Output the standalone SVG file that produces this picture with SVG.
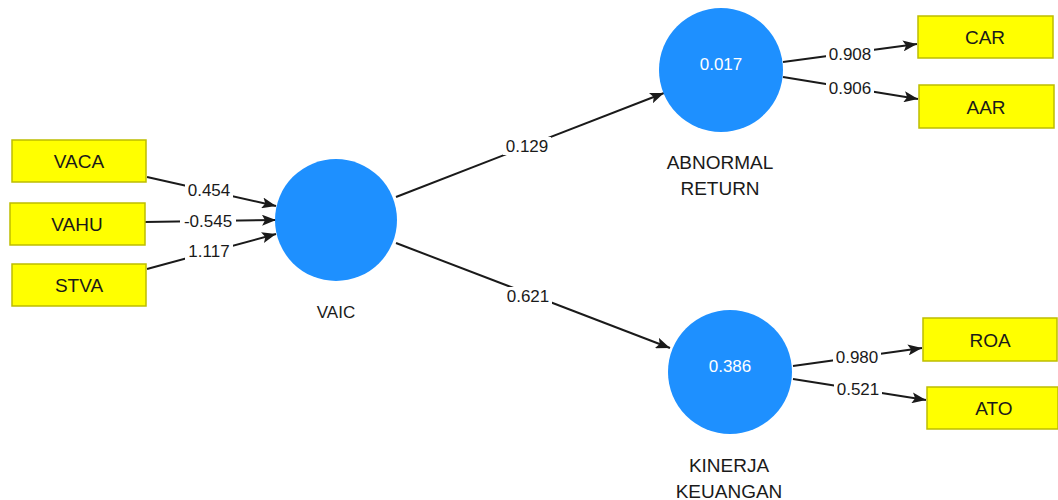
<svg xmlns="http://www.w3.org/2000/svg" width="1058" height="500" viewBox="0 0 1058 500">
<style>
.box{fill:#FFFF00;stroke:#BDBD00;stroke-width:1.5}
.lv{fill:#1E90FF}
.t{font-family:"Liberation Sans",Arial,sans-serif;font-size:17px;fill:#1a1a1a;text-anchor:middle;dominant-baseline:central}
.n{font-size:19px}
.w{fill:#ffffff}
.e{stroke:#1a1a1a;stroke-width:2;fill:none;marker-end:url(#ah)}
.lb{fill:#ffffff}
</style>
<defs>
<marker id="ah" viewBox="0 0 14 11" refX="14" refY="5.5" markerWidth="14" markerHeight="11" markerUnits="userSpaceOnUse" orient="auto">
<path d="M0,0 L14,5.5 L0,11 L3,5.5 Z" fill="#1a1a1a"/>
</marker>
</defs>
<rect width="1058" height="500" fill="#ffffff"/>
<g id="connectors">
<line class="e" x1="147" y1="177" x2="276" y2="206"/>
<line class="e" x1="145" y1="222" x2="276" y2="220"/>
<line class="e" x1="147" y1="269" x2="276" y2="234"/>
<line class="e" x1="396" y1="197" x2="664" y2="93"/>
<line class="e" x1="396" y1="243" x2="670" y2="348"/>
<line class="e" x1="783" y1="62" x2="917" y2="44"/>
<line class="e" x1="783" y1="77" x2="918" y2="99"/>
<line class="e" x1="793" y1="366" x2="922" y2="348"/>
<line class="e" x1="793" y1="379" x2="926" y2="400"/>
<rect class="lb" x="185" y="181" width="48" height="18"/>
<text class="t" x="209" y="190">0.454</text>
<rect class="lb" x="180" y="212" width="56" height="18"/>
<text class="t" x="208" y="221">-0.545</text>
<rect class="lb" x="185" y="242" width="48" height="18"/>
<text class="t" x="209" y="251">1.117</text>
<rect class="lb" x="503" y="137" width="48" height="18"/>
<text class="t" x="527" y="146">0.129</text>
<rect class="lb" x="504" y="287" width="48" height="18"/>
<text class="t" x="528" y="296">0.621</text>
<rect class="lb" x="826" y="45" width="48" height="18"/>
<text class="t" x="850" y="54">0.908</text>
<rect class="lb" x="826" y="79" width="48" height="18"/>
<text class="t" x="850" y="88">0.906</text>
<rect class="lb" x="833" y="348" width="48" height="18"/>
<text class="t" x="857" y="357">0.980</text>
<rect class="lb" x="834" y="380" width="48" height="18"/>
<text class="t" x="858" y="389">0.521</text>
</g>
<g id="VACA"><rect class="box" x="12" y="140" width="134" height="42"/><text class="t n" x="79" y="161">VACA</text></g>
<g id="VAHU"><rect class="box" x="10" y="203" width="135" height="42"/><text class="t n" x="77" y="224">VAHU</text></g>
<g id="STVA"><rect class="box" x="12" y="264" width="134" height="42"/><text class="t n" x="79" y="285">STVA</text></g>
<g id="VAIC"><circle class="lv" cx="336" cy="220" r="61"/><text class="t" x="336" y="312">VAIC</text></g>
<g id="ABNORMAL_RETURN"><circle class="lv" cx="721" cy="70" r="62"/><text class="t w" x="721" y="64">0.017</text><text class="t n" x="720" y="162">ABNORMAL</text><text class="t n" x="720" y="188">RETURN</text></g>
<g id="KINERJA_KEUANGAN"><circle class="lv" cx="730" cy="372" r="62"/><text class="t w" x="730" y="366">0.386</text><text class="t n" x="729" y="465">KINERJA</text><text class="t n" x="729" y="491">KEUANGAN</text></g>
<g id="CAR"><rect class="box" x="918" y="16" width="135" height="42"/><text class="t n" x="985" y="37">CAR</text></g>
<g id="AAR"><rect class="box" x="919" y="85" width="135" height="43"/><text class="t n" x="986" y="107">AAR</text></g>
<g id="ROA"><rect class="box" x="923" y="318" width="134" height="43"/><text class="t n" x="990" y="340">ROA</text></g>
<g id="ATO"><rect class="box" x="927" y="387" width="131" height="42"/><text class="t n" x="994" y="408">ATO</text></g>
</svg>
